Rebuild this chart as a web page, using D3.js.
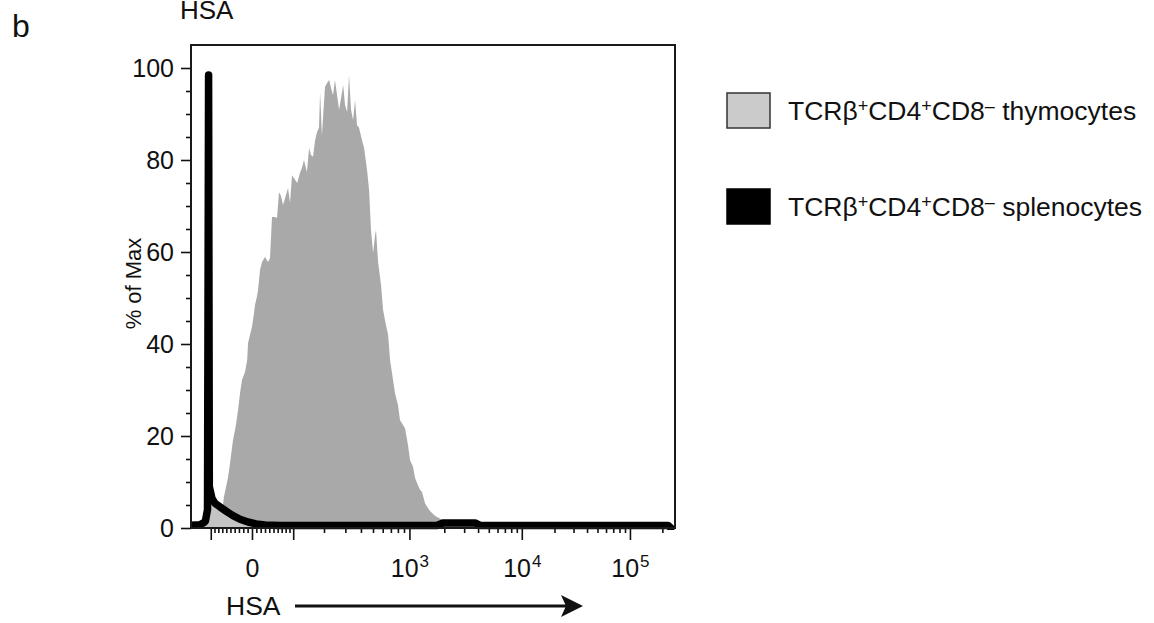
<!DOCTYPE html>
<html>
<head>
<meta charset="utf-8">
<script src="https://cdn.jsdelivr.net/npm/d3@7"></script>
<style>
  html, body { margin: 0; padding: 0; background: #fff; }
  svg { display: block; font-family: "Liberation Sans", Arial, Helvetica, sans-serif; }
</style>
</head>
<body>
<svg id="chart" width="1154" height="623"></svg>
<script>
// ---- Histogram data: HSA fluorescence (x) and % of Max (y) ----
// TCRβ+CD4+CD8– thymocytes
const thymoHSA = [-81, -71, -66, -56, -51, -44, -37, -32, -27.5, -23, -16, -11, -9, -4.5, 0,
  4.6, 6.9, 11.5, 13.8, 18.4, 23, 29.9, 37, 41.7, 46.4, 53.6, 58.4, 63.4, 68.3, 73.3, 80.9,
  86.2, 91.4, 96.8, 105, 111, 119, 125, 131, 140, 147, 153, 160, 167, 174, 181, 185, 192,
  204, 212, 221, 229, 238, 247, 257, 267, 277, 288, 298, 310, 321, 333, 346, 359, 372, 386,
  408, 424, 448, 465, 482, 501, 520, 529, 550, 581, 604, 638, 664, 689, 715, 757, 802, 833,
  883, 918, 973, 1011, 1072, 1115, 1160, 1230, 1280, 1358, 1442, 1500, 1626, 1726, 1948,
  2246, 2755, 3754, 4165];
const thymoPct = [0, 2.8, 6.7, 10.9, 14.1, 19.1, 22.4, 25.7, 29.3, 32.2, 33.9, 36.5, 40.2, 42.0, 43.7,
  46.7, 48.5, 50.4, 51.7, 56.1, 57.8, 58.9, 57.8, 58.7, 67.6, 67.6, 67.4, 73.0, 72.2, 70.2, 72.4,
  73.9, 70.7, 76.7, 75.7, 75.0, 77.2, 78.3, 80.0, 77.4, 82.6, 81.1, 80.7, 84.3, 86.1, 87.0, 94.6, 85.4,
  95.9, 96.7, 97.4, 95.7, 94.1, 97.4, 94.1, 90.9, 93.5, 96.3, 92.0, 90.4, 98.5, 90.9, 88.7, 93.0, 87.6, 87.0,
  84.3, 82.6, 77.8, 73.5, 64.8, 59.8, 63.7, 64.8, 57.8, 52.8, 47.4, 44.1, 42.0, 36.5, 33.7, 29.3, 26.7, 23.5,
  22.4, 21.7, 18.0, 14.8, 13.3, 10.9, 9.8, 8.3, 7.8, 5.4, 4.3, 3.7, 2.8, 2.4, 1.7,
  1.3, 0.9, 0.4, 0];

// TCRβ+CD4+CD8– splenocytes
const splenoHSA = [-160, -131, -119, -115, -109, -106, -104, -97, -89, -76, -58, -44, -27.5, -9,
  9.2, 29.9, 65.8, 1726, 1948, 3754, 4165, 225800, 240600];
const splenoPct = [0.6, 0.7, 1.2, 1.5, 4, 98.5, 9, 6.5, 5.4, 4.6, 3.5, 2.7, 1.9, 1.3,
  0.9, 0.65, 0.55, 0.55, 1.1, 1.1, 0.55, 0.55, 0];

// ---- Axis ticks ----
const yMajorTicks = [0, 20, 40, 60, 80, 100];
const yMinorTicks = [5, 10, 15, 25, 30, 35, 45, 50, 55, 65, 70, 75, 85, 90, 95];
const xMajorTicks = [-100, 0, 100, 1000, 10000, 100000];
const xMinorTicks = [-90, -80, -70, -60, -50, -40, -30, -20, -10,
  10, 20, 30, 40, 50, 60, 70, 80, 90,
  200, 300, 400, 500, 600, 700, 800, 900,
  2000, 3000, 4000, 5000, 6000, 7000, 8000, 9000,
  20000, 30000, 40000, 50000, 60000, 70000, 80000, 90000, 200000];
// label base / exponent for the labelled major ticks
const xTickLabelValues = [0, 1000, 10000, 100000];
const xTickLabelBase = ["0", "10", "10", "10"];
const xTickLabelExp = ["", "3", "4", "5"];

const legendLabels = ["thymocytes", "splenocytes"];
const legendColors = ["#cbcbcb", "#000000"];

// ---- Layout ----
const plot = { left: 191, right: 675, top: 45, bottom: 528 };
const svg = d3.select("#chart");

// Logicle (biexponential) display transform, T = 2^18, M = 4.5 decades
function makeLogicle(T, W, M, A) {
  const w = W / (M + A), x2 = A / (M + A), x1 = x2 + w, x0 = x2 + 2 * w;
  const b = (M + A) * Math.LN10;
  let lo = 1e-9, hi = b;
  for (let i = 0; i < 100; i++) {
    const m = (lo + hi) / 2;
    if (2 * Math.log(m / b) + w * (b + m) < 0) lo = m; else hi = m;
  }
  const d = (lo + hi) / 2;
  const ca = Math.exp(x0 * (b + d));
  const mfa = Math.exp(b * x1) - ca / Math.exp(d * x1);
  const a = T / ((Math.exp(b) - mfa) - ca / Math.exp(d));
  const c = ca * a, f = -mfa * a;
  const S = y => a * Math.exp(b * y) - c * Math.exp(-d * y) + f;
  return v => {
    const t = Math.abs(v);
    let l = x1, h = 1.5;
    for (let i = 0; i < 80; i++) {
      const m = (l + h) / 2;
      if (S(m) < t) l = m; else h = m;
    }
    const yv = (l + h) / 2;
    return v < 0 ? 2 * x1 - yv : yv;
  };
}
const logicle = makeLogicle(262144, 0.567, 4.5, 0);
const xDisplay = d3.scaleLinear().domain([0, 1]).range([plot.left, plot.right]);
const x = v => xDisplay(logicle(v));
x.range = () => xDisplay.range();
x.domain = () => [-160, 262144];
x.copy = () => x;

const y = d3.scaleLinear().domain([0, 105]).range([plot.bottom, plot.top]);

const thymo = thymoHSA.map((v, i) => ({ v, p: thymoPct[i] }));
const spleno = splenoHSA.map((v, i) => ({ v, p: splenoPct[i] }));

// ---- Clip for histogram marks ----
svg.append("defs").append("clipPath").attr("id", "plotClip")
  .append("rect")
  .attr("x", plot.left).attr("y", plot.top)
  .attr("width", plot.right - plot.left).attr("height", plot.bottom - plot.top + 2);

const marks = svg.append("g").attr("clip-path", "url(#plotClip)");

const area = d3.area().x(d => x(d.v)).y0(y(0)).y1(d => y(d.p));
const line = d3.line().x(d => x(d.v)).y(d => y(d.p));

marks.append("path").datum(thymo).attr("d", area).attr("fill", "#a9a9a9");
marks.append("path").datum(spleno).attr("d", area).attr("fill", "#c4c4c4");
marks.append("path").datum(spleno).attr("d", line)
  .attr("fill", "none").attr("stroke", "#000").attr("stroke-width", 7.5)
  .attr("stroke-linejoin", "round").attr("stroke-linecap", "round");

// ---- Axes ----
const tickStyle = g => {
  g.select(".domain").remove();
  g.selectAll(".tick line").attr("stroke", "#111").attr("stroke-width", 1.6);
  g.selectAll(".tick text").attr("fill", "#111");
};

// y axis
svg.append("g").attr("transform", `translate(${plot.left},0)`)
  .call(d3.axisLeft(y).tickValues(yMinorTicks).tickSize(5).tickFormat(() => ""))
  .call(tickStyle);
svg.append("g").attr("transform", `translate(${plot.left},0)`)
  .call(d3.axisLeft(y).tickValues(yMajorTicks).tickSize(10).tickPadding(7).tickFormat(d3.format("d")))
  .call(tickStyle)
  .call(g => g.selectAll(".tick text").attr("font-size", 25));

// x axis
svg.append("g").attr("transform", `translate(0,${plot.bottom})`)
  .call(d3.axisBottom(x).tickValues(xMinorTicks).tickSize(5).tickFormat(() => ""))
  .call(tickStyle);
const xMajor = svg.append("g").attr("transform", `translate(0,${plot.bottom})`)
  .call(d3.axisBottom(x).tickValues(xMajorTicks).tickSize(12).tickPadding(19).tickFormat(() => ""))
  .call(tickStyle);
xMajor.selectAll(".tick text").each(function (d) {
  const k = xTickLabelValues.indexOf(d);
  if (k < 0) return;
  const t = d3.select(this).attr("font-size", 25).attr("dy", null).attr("y", 49);
  t.append("tspan").text(xTickLabelBase[k]);
  if (xTickLabelExp[k]) {
    t.append("tspan").attr("font-size", 17).attr("dx", 1).attr("dy", -10).text(xTickLabelExp[k]);
  }
});

// frame
svg.append("rect")
  .attr("x", plot.left).attr("y", plot.top)
  .attr("width", plot.right - plot.left).attr("height", plot.bottom - plot.top)
  .attr("fill", "none").attr("stroke", "#1a1a1a").attr("stroke-width", 2);

// ---- Text labels ----
svg.append("text").attr("x", 12).attr("y", 37).attr("font-size", 32).attr("fill", "#111").text("b");
svg.append("text").attr("x", 180).attr("y", 19).attr("font-size", 26).attr("fill", "#111").text("HSA");

svg.append("text")
  .attr("transform", `translate(141,${(plot.top + plot.bottom) / 2 - 3}) rotate(-90)`)
  .attr("text-anchor", "middle").attr("font-size", 22).attr("fill", "#111")
  .text("% of Max");

svg.append("text").attr("x", 226).attr("y", 615).attr("font-size", 26.5).attr("fill", "#111").text("HSA");

// axis direction arrow
svg.append("line").attr("x1", 295).attr("x2", 570).attr("y1", 606).attr("y2", 606)
  .attr("stroke", "#111").attr("stroke-width", 3);
svg.append("path").attr("d", "M583,606 L561,595 L566,606 L561,617 Z").attr("fill", "#111");

// ---- Legend ----
const legend = svg.append("g");
const legendRows = [{ y: 93 }, { y: 189 }];
legendLabels.forEach((lab, i) => {
  const row = legend.append("g").attr("transform", `translate(727,${legendRows[i].y})`);
  row.append("rect").attr("x", 0).attr("y", 0).attr("width", 43).attr("height", 35)
    .attr("fill", legendColors[i]).attr("stroke", i === 0 ? "#333" : "#000").attr("stroke-width", 1.5);
  const base = 26.5;
  const t = row.append("text").attr("x", 61).attr("y", base).attr("font-size", 26.5).attr("fill", "#111");
  const parts = [["TCRβ", 0], ["+", 1], ["CD4", 0], ["+", 1], ["CD8", 0], ["–", 1], [" " + lab, 0]];
  parts.forEach(([s, sup]) => {
    t.append("tspan")
      .attr("font-size", sup ? 18 : 26.5)
      .attr("y", sup ? base - 8 : base)
      .text(s);
  });
});
</script>
</body>
</html>
